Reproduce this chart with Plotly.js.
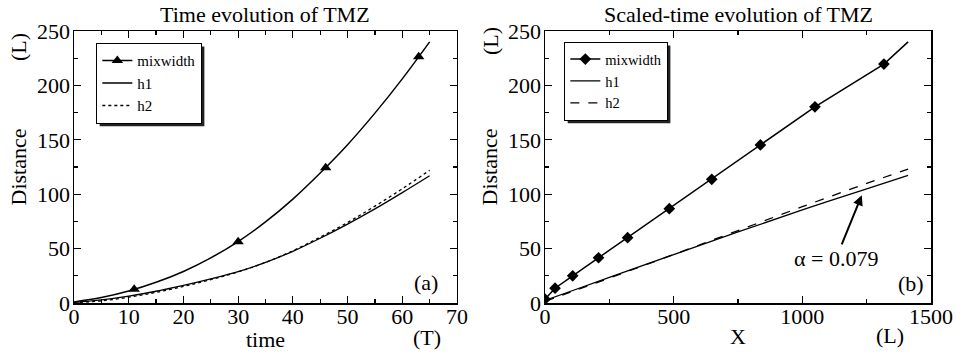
<!DOCTYPE html>
<html>
<head>
<meta charset="utf-8">
<script src="https://cdn.plot.ly/plotly-3.0.1.min.js"></script>
<style>html,body{margin:0;padding:0;background:#fff;}#chart{width:956px;height:352px;}</style>
</head>
<body>
<div id="chart"></div>
<script>
// ---- Panel (a): time evolution ----
const timeT = [0, 5, 10, 15, 20, 25, 30, 35, 40, 45, 50, 55, 60, 65];
const mixwidthA = [1, 5, 11, 19, 29, 41.5, 56.5, 74.5, 95.5, 119.5, 145.5, 174.5, 206, 240];
const h1A = [0.5, 2.8, 6.3, 10.8, 16.2, 22.2, 28.8, 37.3, 47.5, 59.5, 72.5, 86.5, 101.5, 117];
const h2A = [0.3, 2, 5.3, 9.8, 15.2, 21.5, 28.6, 37.3, 48, 60.5, 74, 89, 105, 122];
const markTimeA = [11, 30, 46, 63];
const markMixA = [12.6, 56.3, 124.4, 226.4];

// ---- Panel (b): scaled-time evolution ----
const scaledX = [0, 39, 107.5, 208, 321, 483, 648, 837, 1049, 1317, 1411];
const mixwidthB = [3.5, 13.6, 25, 41.6, 60, 86.7, 113.7, 145.3, 180.3, 219.6, 240];
const markCountB = 10;
const hX = [0, 100, 250, 500, 750, 1000, 1250, 1411];
const h1B = [2.3, 10.8, 23.5, 44.5, 65.3, 85.5, 105, 117.4];
const h2B = [1.5, 10, 22.9, 44.6, 66.6, 88.5, 109.9, 123];

const alphaLabel = 'α = 0.079';
const alphaTip = [1231, 99];
const alphaText = [1131, 41];

function isolate(xs, ys) {
  const ox = [], oy = [];
  xs.forEach((v, i) => { if (i) { ox.push(null); oy.push(null); } ox.push(v); oy.push(ys[i]); });
  return {x: ox, y: oy};
}

const FONT = 'Liberation Serif';
const K = '#000';
const mA = isolate(markTimeA, markMixA);
const mB = isolate(scaledX.slice(0, markCountB), mixwidthB.slice(0, markCountB));

const traces = [
  {x: timeT, y: mixwidthA, mode: 'lines', line: {color: K, width: 1.5, shape: 'spline'}, showlegend: false, xaxis: 'x', yaxis: 'y', hoverinfo: 'skip'},
  {x: mA.x, y: mA.y, name: 'mixwidth', mode: 'lines+markers', connectgaps: false,
   line: {color: K, width: 1.5}, marker: {symbol: 'triangle-up', size: 10, color: K}, xaxis: 'x', yaxis: 'y', legend: 'legend'},
  {x: timeT, y: h1A, name: 'h1', mode: 'lines', line: {color: K, width: 1.3, shape: 'spline'}, xaxis: 'x', yaxis: 'y', legend: 'legend'},
  {x: timeT, y: h2A, name: 'h2', mode: 'lines', line: {color: K, width: 1.3, dash: 'dot', shape: 'spline'}, xaxis: 'x', yaxis: 'y', legend: 'legend'},

  {x: scaledX, y: mixwidthB, mode: 'lines', line: {color: K, width: 1.5}, showlegend: false, xaxis: 'x2', yaxis: 'y2', hoverinfo: 'skip'},
  {x: mB.x, y: mB.y, name: 'mixwidth', mode: 'lines+markers', connectgaps: false,
   line: {color: K, width: 1.5}, marker: {symbol: 'diamond', size: 9, color: K}, xaxis: 'x2', yaxis: 'y2', legend: 'legend2'},
  {x: hX, y: h1B, name: 'h1', mode: 'lines', line: {color: K, width: 1.3, shape: 'spline'}, xaxis: 'x2', yaxis: 'y2', legend: 'legend2'},
  {x: hX, y: h2B, name: 'h2', mode: 'lines', line: {color: K, width: 1.3, dash: 'dash', shape: 'spline'}, xaxis: 'x2', yaxis: 'y2', legend: 'legend2'}
];

function axis(extra) {
  return Object.assign({
    showline: true, linecolor: K, linewidth: 1.5, mirror: 'allticks',
    ticks: 'inside', ticklen: 7, tickwidth: 1.2, tickcolor: K,
    showgrid: false, zeroline: false, automargin: false,
    tickfont: {family: FONT, size: 22, color: K}
  }, extra);
}

const tf = {family: FONT, size: 22, color: K};
const dom1 = [0, 0.4469], dom2 = [0.5496, 1];
const minorX1 = {dtick: 5, ticks: 'inside', ticklen: 4, tickcolor: K};
const minorY = {dtick: 25, ticks: 'inside', ticklen: 4, tickcolor: K};
const minorX2 = {dtick: 250, ticks: 'inside', ticklen: 4, tickcolor: K};

const layout = {
  width: 956, height: 352,
  margin: {l: 74, r: 25, t: 31, b: 49},
  paper_bgcolor: '#fff', plot_bgcolor: '#fff',
  font: {family: FONT, color: K},
  xaxis: axis({domain: dom1, range: [0, 70], dtick: 10, minor: minorX1, ticklabelstandoff: -7,
               title: {text: 'time', font: tf, standoff: 0}, anchor: 'y'}),
  yaxis: axis({domain: [0, 1], range: [0, 250], dtick: 50, minor: minorY, ticklabelstandoff: -2,
               title: {text: 'Distance', font: tf, standoff: 4}, anchor: 'x'}),
  xaxis2: axis({domain: dom2, range: [0, 1500], dtick: 500, minor: minorX2, ticklabelstandoff: -7,
                title: {text: 'X', font: tf, standoff: 0}, anchor: 'y2'}),
  yaxis2: axis({domain: [0, 1], range: [0, 250], dtick: 50, minor: minorY, ticklabelstandoff: -2,
                title: {text: 'Distance', font: tf, standoff: 4}, anchor: 'x2'}),
  legend: {x: 0.0257, y: 0.956, xanchor: 'left', yanchor: 'top', bgcolor: '#fff', bordercolor: K, borderwidth: 1.3,
           font: {family: FONT, size: 15, color: K}, tracegroupgap: 0},
  legend2: {x: 0.5718, y: 0.96, xanchor: 'left', yanchor: 'top', bgcolor: '#fff', bordercolor: K, borderwidth: 1.3,
            font: {family: FONT, size: 14.5, color: K}, tracegroupgap: 0},
  annotations: [
    {text: 'Time evolution of TMZ', xref: 'x domain', yref: 'paper', x: 0.5, y: 1, yanchor: 'bottom', yshift: 2, showarrow: false, font: tf},
    {text: 'Scaled-time evolution of TMZ', xref: 'x2 domain', yref: 'paper', x: 0.5, y: 1, yanchor: 'bottom', yshift: 2, showarrow: false, font: tf},
    {text: '(L)', xref: 'paper', yref: 'paper', x: -0.0653, y: 0.941, xanchor: 'center', yanchor: 'middle', textangle: -90, showarrow: false, font: tf},
    {text: '(L)', xref: 'paper', yref: 'paper', x: 0.4854, y: 0.963, xanchor: 'center', yanchor: 'middle', textangle: -90, showarrow: false, font: tf},
    {text: '(T)', xref: 'paper', yref: 'paper', x: 0.4119, y: -0.125, xanchor: 'center', yanchor: 'middle', showarrow: false, font: tf},
    {text: '(L)', xref: 'paper', yref: 'paper', x: 0.9522, y: -0.118, xanchor: 'center', yanchor: 'middle', showarrow: false, font: tf},
    {text: '(a)', xref: 'x domain', yref: 'paper', x: 0.92, y: 0.075, xanchor: 'center', yanchor: 'middle', showarrow: false, font: tf},
    {text: '(b)', xref: 'x2 domain', yref: 'paper', x: 0.948, y: 0.07, xanchor: 'center', yanchor: 'middle', showarrow: false, font: tf},
    {text: alphaLabel, xref: 'x2', yref: 'y2', x: alphaTip[0], y: alphaTip[1], axref: 'x2', ayref: 'y2',
     ax: alphaText[0], ay: alphaText[1], showarrow: true, arrowhead: 2, arrowsize: 1, arrowwidth: 2, arrowcolor: K, font: tf}
  ]
};

Plotly.newPlot('chart', traces, layout, {staticPlot: true, displayModeBar: false}).then(function (gd) {
  const sz = gd._fullLayout._size;
  const host = gd.getBoundingClientRect();
  const shapes = [];
  gd.querySelectorAll('g.legend > rect.bg, g.legend2 > rect.bg').forEach(function (r) {
    const b = r.getBoundingClientRect();
    const off = 3;
    const x0 = b.left - host.left + off, x1 = b.right - host.left + off;
    const y0 = b.top - host.top + off, y1 = b.bottom - host.top + off;
    shapes.push({type: 'rect', xref: 'paper', yref: 'paper', layer: 'above',
      x0: (x0 - sz.l) / sz.w, x1: (x1 - sz.l) / sz.w,
      y0: 1 - (y1 - sz.t) / sz.h, y1: 1 - (y0 - sz.t) / sz.h,
      fillcolor: '#222', line: {width: 0}});
  });
  return Plotly.relayout(gd, {shapes: shapes});
});
</script>
</body>
</html>
